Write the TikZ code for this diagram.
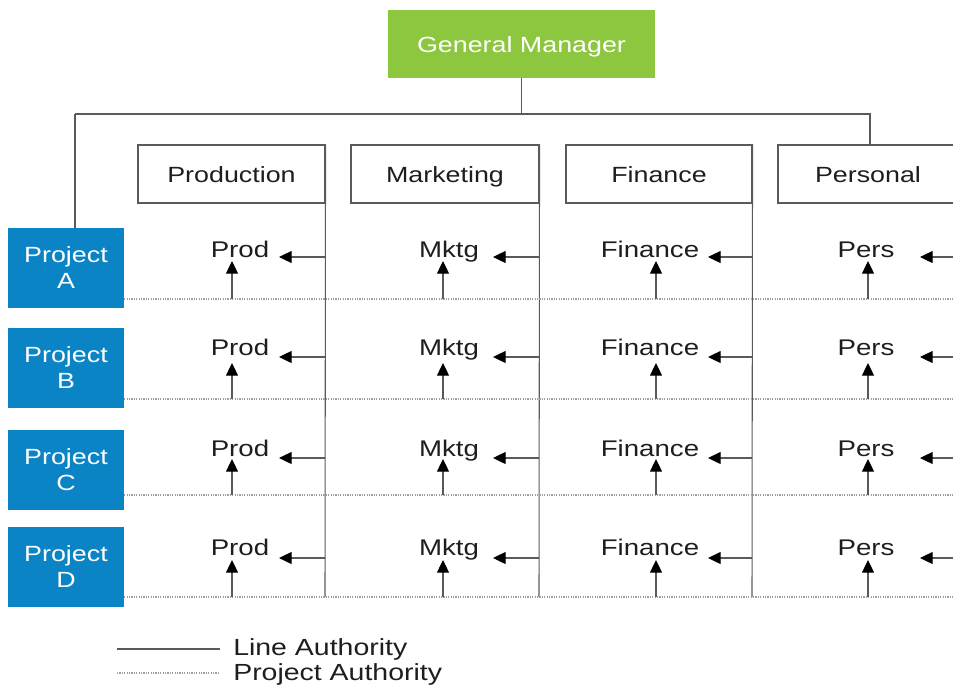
\documentclass[tikz,border=0pt]{standalone}
\usepackage{fontspec}
\setmainfont[FakeStretch=1.22]{Liberation Sans}
\usetikzlibrary{arrows.meta}
\definecolor{gmgreen}{HTML}{8DC63F}
\definecolor{projblue}{HTML}{0B84C6}
\definecolor{linegray}{HTML}{5A5A5A}
\definecolor{dotgray}{HTML}{A0A0A0}
\definecolor{txtdark}{HTML}{1E1E1E}
\begin{document}
\begin{tikzpicture}[x=0.75pt,y=-0.75pt,
  gm/.style={rectangle,fill=gmgreen,text=white,inner sep=0pt,minimum width=200.25pt,minimum height=51pt,text height=13pt,text depth=0pt,font=\fontsize{16.5}{20}\selectfont},
  dept/.style={rectangle,draw=linegray,line width=0.8pt,fill=white,text=txtdark,inner sep=0pt,minimum height=43.5pt,text height=13pt,text depth=0pt,font=\fontsize{16.5}{20}\selectfont},
  proj/.style={rectangle,fill=projblue,text=white,inner sep=0pt,minimum width=87pt,minimum height=60pt,align=center,font=\fontsize{16.5}{19.5}\selectfont},
  cell/.style={anchor=base,inner sep=0pt,text=txtdark,font=\fontsize{17}{20}\selectfont},
  lineauth/.style={draw=linegray,line width=0.8pt},
  projauth/.style={draw=dotgray,line width=0.8pt,dash pattern=on 0.9pt off 0.9pt},
  arr/.style={draw=linegray,line width=0.9pt,-{Triangle[length=9.5pt,width=9pt,color=black]}},
  legtext/.style={anchor=west,inner sep=0pt,text=txtdark,font=\fontsize{17.5}{20}\selectfont}]
\useasboundingbox (0,0) rectangle (953,690);
\clip (0,0) rectangle (953,690);
% General manager
\node[gm] (gm) at (521.5,44) {General Manager};
% departments
\node[dept,minimum width=140.25pt] (prod) at (231.5,174) {Production};
\node[dept,minimum width=141pt] (mktg) at (445,174) {Marketing};
\node[dept,minimum width=139.5pt] (fin) at (659,174) {Finance};
\node[dept,minimum width=135pt] (pers) at (868,174) {Personal};
% top tree
\coordinate (hl) at (75,114);
\coordinate (hr) at (870,114);
\coordinate (hm) at (521.5,114);
\draw[lineauth] (gm.south) -- (hm);
\draw[lineauth] (hl) -- (hr) -- (hr |- pers.north);
% vertical department lines
\coordinate (vprod) at (325,597);
\coordinate (vmktg) at (539,597);
\coordinate (vfin) at (752,597);
\draw[lineauth] (prod.north east) -- (vprod);
\draw[lineauth] (mktg.north east) -- (vmktg);
\draw[lineauth] (fin.north east) -- (vfin);
% rows
\foreach \r/\D/\T/\H/\U/\cy in {A/299/257/257/261/268, B/399/355/357/363/368, C/495/456/458/459/470, D/597/555/558/560/567}{
  \node[proj] (p\r) at (66,\cy) {Project\\\r};
  \coordinate (dr\r) at (953,\D);
  \draw[projauth] (p\r.east |- dr\r) -- (dr\r);
  \foreach \c/\name/\tx/\ux/\hx/\vx in {1/Prod/240/232/279/325, 2/Mktg/449/443/493/539, 3/Finance/650/656/708/752, 4/Pers/866/868/920/953}{
    \node[cell] (n\r\c) at (\tx,\T) {\name};
    \coordinate (b\r\c) at (\ux,\D);
    \coordinate (u\r\c) at (\ux,\U);
    \draw[arr] (b\r\c) -- (u\r\c);
    \coordinate (h\r\c) at (\vx,\H);
    \coordinate (t\r\c) at (\hx,\H);
    \draw[arr] (h\r\c) -- (t\r\c);
  }
}
\draw[lineauth] (hl) -- (pA.north -| hl);
% legend
\coordinate (l1a) at (117,649); \coordinate (l1b) at (220,649);
\coordinate (l2a) at (117,673); \coordinate (l2b) at (220,673);
\draw[lineauth] (l1a) -- (l1b);
\draw[projauth] (l2a) -- (l2b);
\node[legtext] (lt1) at (233,649) {Line Authority};
\node[legtext] (lt2) at (233,674) {Project Authority};
\end{tikzpicture}
\end{document}
